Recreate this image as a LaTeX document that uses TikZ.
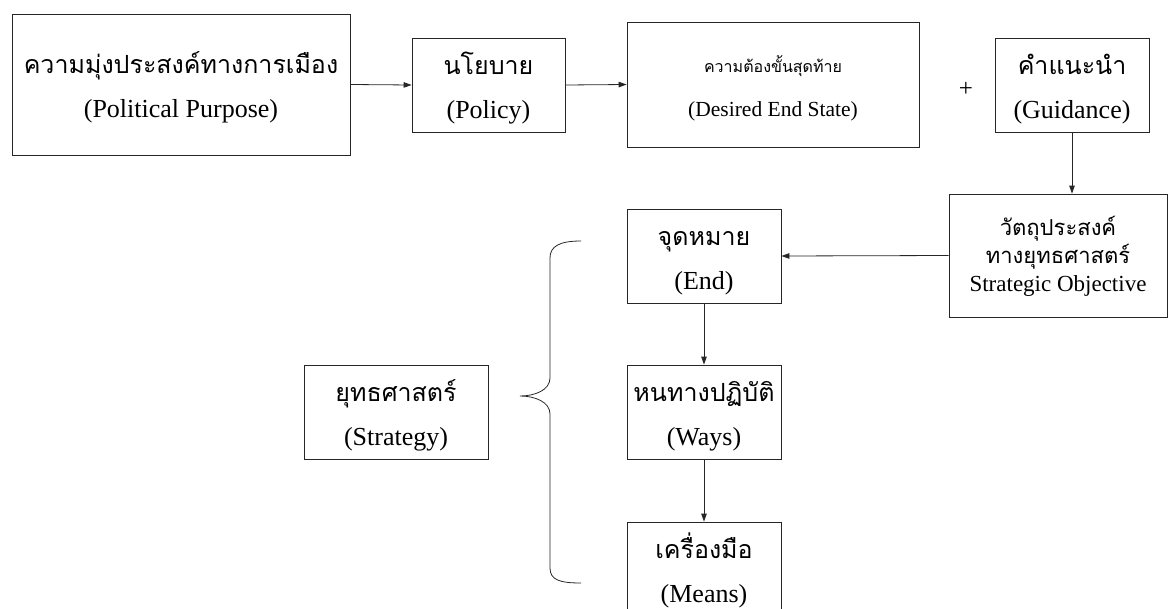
\documentclass[tikz,border=0pt]{standalone}
\usepackage{fontspec}
\setmainfont{Liberation Serif}
\newfontfamily\thaifont[Script=Thai]{Loma}
\usetikzlibrary{arrows.meta,positioning}

\newcommand{\thtxt}[1]{{\thaifont\fontsize{25}{44}\selectfont #1}}
\tikzset{
  box/.style={draw=black!85,line width=0.8pt,align=center,inner sep=0pt,
    font=\fontsize{26}{44}\selectfont,text height=70pt,text depth=4pt},
  link/.style={draw=black!85,line width=0.8pt,-{Triangle[length=8pt,width=5.5pt]}},
}

\begin{document}
\begin{tikzpicture}[x=1pt,y=-1pt]
\useasboundingbox(0,0)rectangle(1170,608);
% top row
\node[box,minimum width=338pt,minimum height=141pt](purpose)at(181,84.5)
  {\thtxt{ความมุ่งประสงค์ทางการเมือง}\\(Political Purpose)};
\node[box,minimum width=153pt,minimum height=94pt](policy)at(488.5,85)
  {\thtxt{นโยบาย}\\(Policy)};
\node[box,minimum width=292pt,minimum height=125pt,font=\fontsize{21.5}{44}\selectfont,
  text height=67pt,text depth=4pt](endstate)at(773,84.5)
  {{\thaifont\fontsize{16}{44}\selectfont ความต้องขั้นสุดท้าย}\\(Desired End State)};
\node(plus)at(966,89){\fontsize{25}{30}\selectfont +};
\node[box,minimum width=154pt,minimum height=94pt](guidance)at(1072,85)
  {\thtxt{คำแนะนำ}\\(Guidance)};
% objective
\node[box,minimum width=218pt,minimum height=123pt,font=\fontsize{23}{28}\selectfont,
  text height=76pt,text depth=4pt](objective)at(1058,255.5)
  {{\thaifont\fontsize{22}{28}\selectfont วัตถุประสงค์}\\
   {\thaifont\fontsize{22}{28}\selectfont ทางยุทธศาสตร์}\\Strategic Objective};
% ends, ways, means
\node[box,minimum width=154pt,minimum height=94pt](ends)at(704,256)
  {\thtxt{จุดหมาย}\\(End)};
\node[box,minimum width=154pt,minimum height=94pt](ways)at(704,412)
  {\thtxt{หนทางปฏิบัติ}\\(Ways)};
\node[box,minimum width=154pt,minimum height=94pt](means)at(704,569)
  {\thtxt{เครื่องมือ}\\(Means)};
\node[box,minimum width=184pt,minimum height=94pt](strategy)at(396,412)
  {\thtxt{ยุทธศาสตร์}\\(Strategy)};

\draw[link](purpose.east)--(policy.west);
\draw[link](policy.east)--(endstate.west);
\draw[link](guidance.south)--(guidance.south|-objective.north);
\draw[link](objective.west)--(ends.east);
\draw[link](ends)--(ways);
\draw[link](ways)--(means);

% brace
\draw[draw=black!85,line width=0.8pt](581,241)..controls(560,241)and(550,246)..(550,258)
  --(550,378)..controls(550,390)and(535,396)..(520,396)
  ..controls(535,396)and(550,402)..(550,414)
  --(550,568)..controls(550,580)and(560,583)..(581,583);
\end{tikzpicture}
\end{document}
